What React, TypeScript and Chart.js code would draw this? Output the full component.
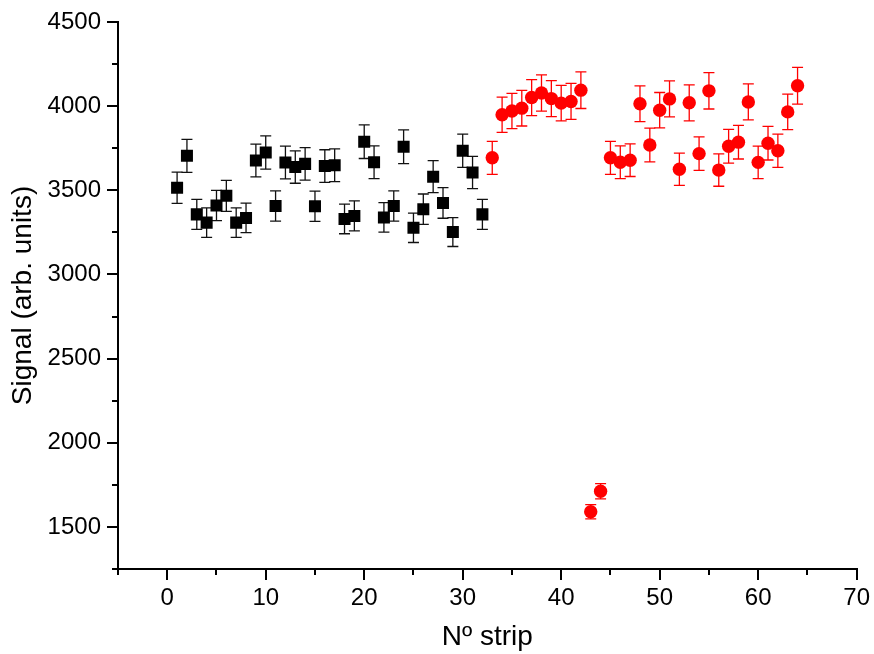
import React, { useEffect, useRef } from 'react';
import { Chart, registerables } from 'chart.js';

Chart.register(...registerables);

const FONT = '"Liberation Sans", Arial, Helvetica, sans-serif';

const stripsA = [1, 2, 3, 4, 5, 6, 7, 8, 9, 10, 11, 12, 13, 14, 15, 16, 17, 18, 19, 20, 21, 22, 23, 24, 25, 26, 27, 28, 29, 30, 31, 32];
const signalA = [3515, 3705, 3357, 3308, 3410, 3467, 3308, 3336, 3677, 3725, 3407, 3665, 3638, 3657, 3405, 3644, 3649, 3330, 3348, 3789, 3667, 3339, 3407, 3759, 3277, 3388, 3581, 3425, 3252, 3735, 3606, 3357];
const errorA = [93, 98, 89, 88, 90, 92, 88, 88, 97, 99, 90, 97, 96, 97, 90, 97, 97, 88, 89, 100, 97, 88, 90, 100, 87, 90, 95, 91, 86, 99, 96, 89];

const stripsB = [33, 34, 35, 36, 37, 38, 39, 40, 41, 42, 43, 44, 45, 46, 47, 48, 49, 50, 51, 52, 53, 54, 55, 56, 57, 58, 59, 60, 61, 62, 63, 64];
const signalB = [3693, 3949, 3971, 3988, 4051, 4078, 4045, 4018, 4028, 4095, 1590, 1712, 3693, 3667, 3679, 4014, 3769, 3976, 4043, 3625, 4020, 3718, 4091, 3620, 3762, 3786, 4025, 3666, 3780, 3735, 3966, 4121];
const errorB = [98, 105, 105, 106, 107, 108, 107, 106, 107, 109, 42, 45, 98, 97, 97, 106, 100, 105, 107, 96, 107, 99, 108, 96, 100, 100, 107, 97, 100, 99, 105, 109];

const xMajorTicks = [0, 10, 20, 30, 40, 50, 60, 70];
const xMinorTicks = [-5, 5, 15, 25, 35, 45, 55, 65];
const yMajorTicks = [1500, 2000, 2500, 3000, 3500, 4000, 4500];
const yMinorTicks = [1250, 1750, 2250, 2750, 3250, 3750, 4250];

const xTitle = 'Nº strip';
const yTitle = 'Signal (arb. units)';

const extrasPlugin = {
  id: 'extras',
  beforeDatasetsDraw(chart: any) {
    const ctx = chart.ctx;
    const xs = chart.scales.x;
    const ys = chart.scales.y;
    const drawSet = (xv: number[], yv: number[], ev: number[], color: string) => {
      ctx.save();
      ctx.strokeStyle = color;
      ctx.lineWidth = 1.3;
      for (let i = 0; i < xv.length; i++) {
        const px = xs.getPixelForValue(xv[i]);
        const pt = ys.getPixelForValue(yv[i] + ev[i]);
        const pb = ys.getPixelForValue(yv[i] - ev[i]);
        const cap = 5.5;
        ctx.beginPath();
        ctx.moveTo(px, pt);
        ctx.lineTo(px, pb);
        ctx.moveTo(px - cap, pt);
        ctx.lineTo(px + cap, pt);
        ctx.moveTo(px - cap, pb);
        ctx.lineTo(px + cap, pb);
        ctx.stroke();
      }
      ctx.restore();
    };
    drawSet(stripsA, signalA, errorA, '#111111');
    drawSet(stripsB, signalB, errorB, '#ff0000');
  },
  afterDraw(chart: any) {
    const ctx = chart.ctx;
    const xs = chart.scales.x;
    const ys = chart.scales.y;
    const area = chart.chartArea;
    ctx.save();
    ctx.strokeStyle = '#000';
    ctx.lineWidth = 2;
    ctx.beginPath();
    for (const v of xMinorTicks) {
      const px = Math.round(xs.getPixelForValue(v));
      ctx.moveTo(px, area.bottom);
      ctx.lineTo(px, area.bottom + 6);
    }
    for (const v of yMinorTicks) {
      const py = Math.round(ys.getPixelForValue(v));
      ctx.moveTo(area.left, py);
      ctx.lineTo(area.left - 6, py);
    }
    ctx.stroke();
    ctx.restore();
  },
};

export default function App() {
  const canvasRef = useRef<HTMLCanvasElement | null>(null);

  useEffect(() => {
    if (!canvasRef.current) return;
    const chart = new Chart(canvasRef.current, {
      type: 'scatter',
      data: {
        datasets: [
          {
            label: 'A',
            data: stripsA.map((x, i) => ({ x, y: signalA[i] })),
            pointStyle: 'rect',
            pointRadius: 8.5,
            pointHoverRadius: 8.5,
            backgroundColor: '#000000',
            borderColor: '#000000',
            borderWidth: 0,
            showLine: false,
          },
          {
            label: 'B',
            data: stripsB.map((x, i) => ({ x, y: signalB[i] })),
            pointStyle: 'circle',
            pointRadius: 6.7,
            pointHoverRadius: 6.7,
            backgroundColor: '#ff0000',
            borderColor: '#ff0000',
            borderWidth: 0,
            showLine: false,
          },
        ],
      },
      options: {
        responsive: false,
        animation: false,
        devicePixelRatio: 1,
        layout: { padding: { top: 22, right: 15, left: 0, bottom: 0 } },
        plugins: { legend: { display: false }, tooltip: { enabled: false } },
        scales: {
          x: {
            type: 'linear',
            min: -5,
            max: 70,
            afterBuildTicks: (s: any) => {
              s.ticks = xMajorTicks.map((v) => ({ value: v }));
            },
            afterFit: (s: any) => {
              s.height = 85;
            },
            grid: { drawOnChartArea: false, drawTicks: true, tickLength: 11, lineWidth: 2, color: '#000' },
            border: { display: true, color: '#000', width: 2 },
            ticks: {
              color: '#000',
              font: { family: FONT, size: 24 },
              padding: 4,
              maxRotation: 0,
              autoSkip: false,
              callback: (v: any) => String(v),
            },
            title: { display: true, text: xTitle, color: '#000', font: { family: FONT, size: 28 }, padding: 0 },
          },
          y: {
            type: 'linear',
            min: 1250,
            max: 4500,
            afterBuildTicks: (s: any) => {
              s.ticks = yMajorTicks.map((v) => ({ value: v }));
            },
            afterFit: (s: any) => {
              s.width = 118;
            },
            grid: { drawOnChartArea: false, drawTicks: true, tickLength: 11, lineWidth: 2, color: '#000' },
            border: { display: true, color: '#000', width: 2 },
            ticks: {
              color: '#000',
              font: { family: FONT, size: 24 },
              padding: 6,
              autoSkip: false,
              callback: (v: any) => String(v),
            },
            title: { display: true, text: yTitle, color: '#000', font: { family: FONT, size: 28 }, padding: { top: 6, bottom: 0 } },
          },
        },
      },
      plugins: [extrasPlugin],
    } as any);
    return () => chart.destroy();
  }, []);

  return (
    <div style={{ position: 'fixed', left: 0, top: 0, width: 874, height: 654, background: '#fff' }}>
      <canvas ref={canvasRef} width={874} height={654} style={{ display: 'block', width: 874, height: 654 }} />
    </div>
  );
}
